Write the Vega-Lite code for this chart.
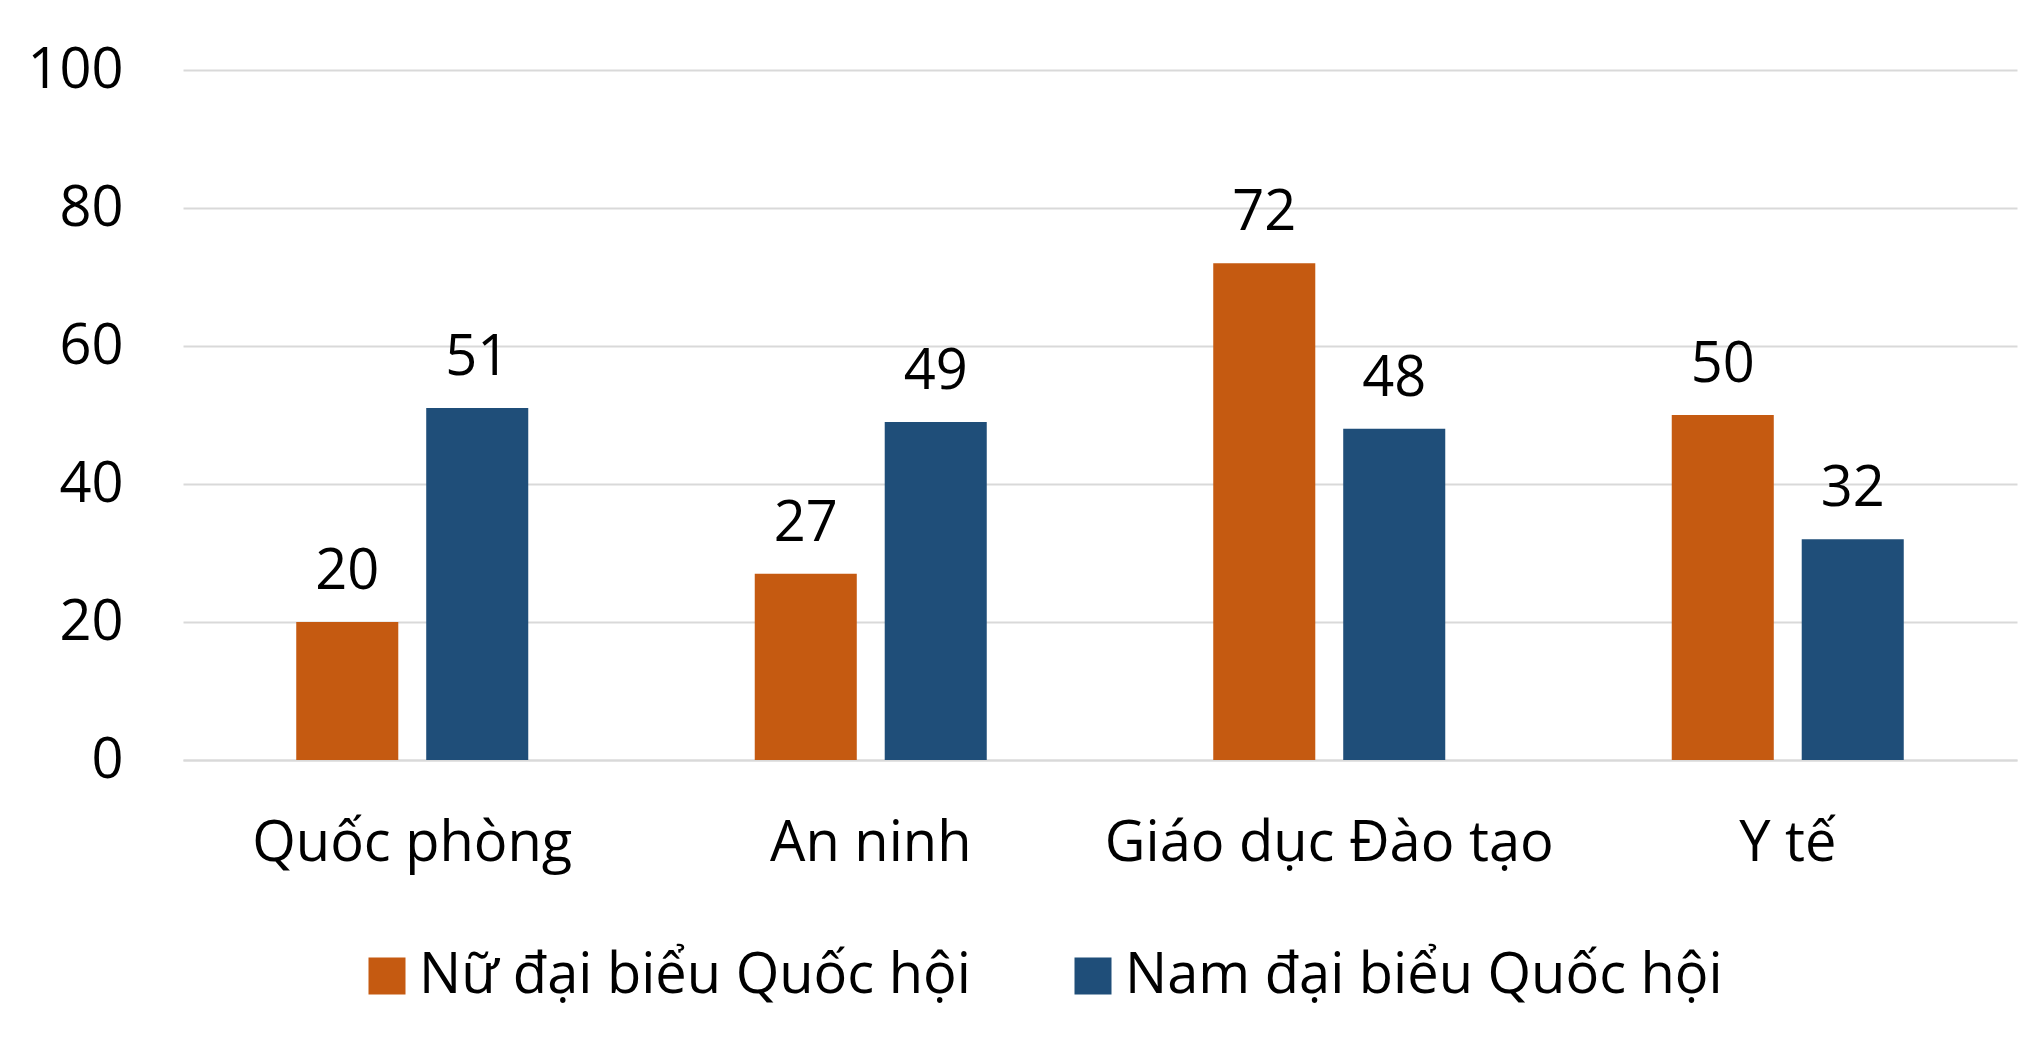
{
  "$schema": "https://vega.github.io/schema/vega-lite/v6.json",
  "autosize": {"type": "none"},
  "width": 1834,
  "height": 690,
  "padding": {"left": 183, "top": 70, "right": 8, "bottom": 278},
  "background": "white",
  "config": {
    "font": "Open Sans",
    "view": {"stroke": null},
    "axis": {"labelFont": "Open Sans", "labelColor": "#000000"},
    "legend": {"labelFont": "Open Sans"}
  },
  "data": {
    "values": [
      {"category": "Quốc phòng", "group": "Nữ đại biểu Quốc hội", "value": 20},
      {"category": "Quốc phòng", "group": "Nam đại biểu Quốc hội", "value": 51},
      {"category": "An ninh", "group": "Nữ đại biểu Quốc hội", "value": 27},
      {"category": "An ninh", "group": "Nam đại biểu Quốc hội", "value": 49},
      {"category": "Giáo dục Đào tạo", "group": "Nữ đại biểu Quốc hội", "value": 72},
      {"category": "Giáo dục Đào tạo", "group": "Nam đại biểu Quốc hội", "value": 48},
      {"category": "Y tế", "group": "Nữ đại biểu Quốc hội", "value": 50},
      {"category": "Y tế", "group": "Nam đại biểu Quốc hội", "value": 32}
    ]
  },
  "encoding": {
    "x": {
      "field": "category",
      "type": "nominal",
      "sort": ["Quốc phòng", "An ninh", "Giáo dục Đào tạo", "Y tế"],
      "scale": {"paddingInner": 0.494, "paddingOuter": 0.247},
      "axis": {
        "title": null,
        "labelAngle": 0,
        "labelFontSize": 56,
        "labelPadding": 56,
        "labelLimit": 1000,
        "ticks": false,
        "domainColor": "#D9D9D9",
        "domainWidth": 2,
        "grid": false
      }
    },
    "xOffset": {
      "field": "group",
      "type": "nominal",
      "sort": ["Nữ đại biểu Quốc hội", "Nam đại biểu Quốc hội"],
      "scale": {"paddingInner": 0.215, "paddingOuter": 0}
    },
    "y": {
      "field": "value",
      "type": "quantitative",
      "scale": {"domain": [0, 100], "nice": false},
      "axis": {
        "title": null,
        "values": [0, 20, 40, 60, 80, 100],
        "labelFontSize": 56,
        "labelPadding": 60,
        "ticks": false,
        "domain": false,
        "gridColor": "#D9D9D9",
        "gridWidth": 2
      }
    }
  },
  "layer": [
    {
      "mark": {"type": "bar"},
      "encoding": {
        "color": {
          "field": "group",
          "type": "nominal",
          "sort": ["Nữ đại biểu Quốc hội", "Nam đại biểu Quốc hội"],
          "scale": {"range": ["#C55A11", "#1F4E79"]},
          "legend": {
            "title": null,
            "orient": "none",
            "direction": "horizontal",
            "legendX": 176,
            "legendY": 878,
            "symbolType": "square",
            "symbolSize": 1369,
            "symbolStrokeWidth": 0,
            "labelFontSize": 56,
            "labelColor": "#000000",
            "labelOffset": 4,
            "columnPadding": 94,
            "labelLimit": 1000
          }
        }
      }
    },
    {
      "mark": {"type": "text", "baseline": "alphabetic", "dy": -33, "fontSize": 56, "color": "#000000"},
      "encoding": {
        "text": {"field": "value", "type": "quantitative"}
      }
    }
  ]
}
